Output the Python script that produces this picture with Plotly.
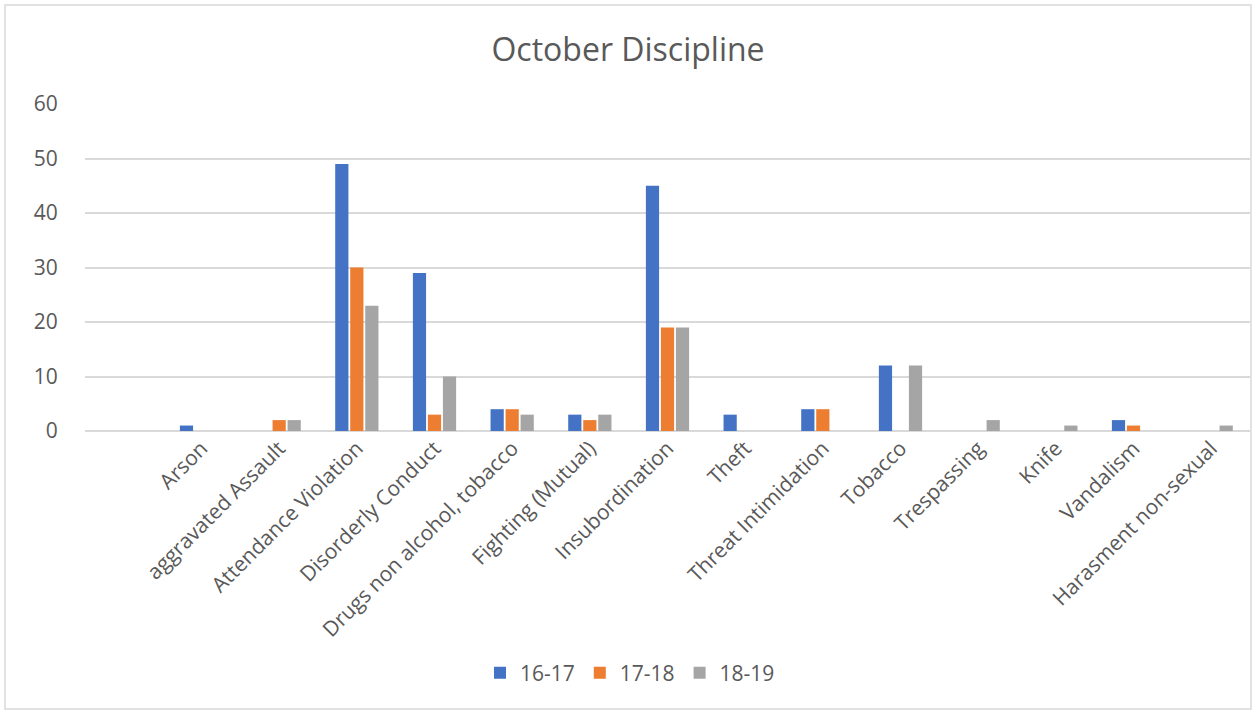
import plotly.graph_objects as go

categories = ["Arson", "aggravated Assault", "Attendance Violation", "Disorderly Conduct",
              "Drugs non alcohol, tobacco", "Fighting (Mutual)", "Insubordination", "Theft",
              "Threat Intimidation", "Tobacco", "Trespassing", "Knife", "Vandalism",
              "Harasment non-sexual"]
s1617 = [1, 0, 49, 29, 4, 3, 45, 3, 4, 12, 0, 0, 2, 0]
s1718 = [0, 2, 30, 3, 4, 2, 19, 0, 4, 0, 0, 0, 1, 0]
s1819 = [0, 2, 23, 10, 3, 3, 19, 0, 0, 12, 2, 1, 0, 1]
series_names = ["16-17", "17-18", "18-19"]
colors = ["#4472C4", "#ED7D31", "#A5A5A5"]
y_ticks = [0, 10, 20, 30, 40, 50, 60]

W, H = 1254, 713
L, R, T, B = 85, 1250, 104, 431

fig = go.Figure()
for name, vals, c in zip(series_names, [s1617, s1718, s1819], colors):
    fig.add_trace(go.Bar(x=categories, y=vals, name=name,
                         marker=dict(color=c, line=dict(width=0))))

font = "Open Sans, Noto Sans, DejaVu Sans, sans-serif"
fig.update_layout(
    width=W, height=H,
    margin=dict(l=L, r=W - R, t=T, b=H - B, pad=0),
    paper_bgcolor="white", plot_bgcolor="white",
    barmode="group", bargap=0.42, bargroupgap=0.12,
    font=dict(family=font, color="#595959", size=21),
    title=dict(text="October Discipline", x=(628 - L) / (R - L), xref="paper",
               y=1 - 50 / H, yref="container", xanchor="center", yanchor="middle",
               font=dict(size=32, color="#595959", family=font)),
    legend=dict(orientation="h", x=(630 - L) / (R - L), xanchor="center",
                y=(B - 673) / (B - T), yanchor="middle",
                font=dict(size=21, color="#595959"), itemwidth=30,
                traceorder="normal"),
    xaxis=dict(type="category", range=[-1.5, 13.5], tickangle=-45, showgrid=False,
               showline=False, ticks="", tickfont=dict(size=21, color="#595959")),
    yaxis=dict(range=[0, 60], tickvals=y_ticks, showgrid=True, gridcolor="#D9D9D9",
               gridwidth=1.5, zeroline=True, zerolinecolor="#D9D9D9", zerolinewidth=1.5,
               ticks="outside", ticklen=22, tickcolor="white",
               tickfont=dict(size=21, color="#595959")),
    shapes=[dict(type="rect", xref="paper", yref="paper",
                 x0=(5 - L) / (R - L), x1=(1251 - L) / (R - L),
                 y0=(B - 709) / (B - T), y1=(B - 5) / (B - T),
                 line=dict(color="#D9D9D9", width=1.5), fillcolor="rgba(0,0,0,0)",
                 layer="below")],
)

fig.write_html("out.html", config={"displayModeBar": False},
               post_script="document.body.style.margin='0';document.body.style.overflow='hidden';")
